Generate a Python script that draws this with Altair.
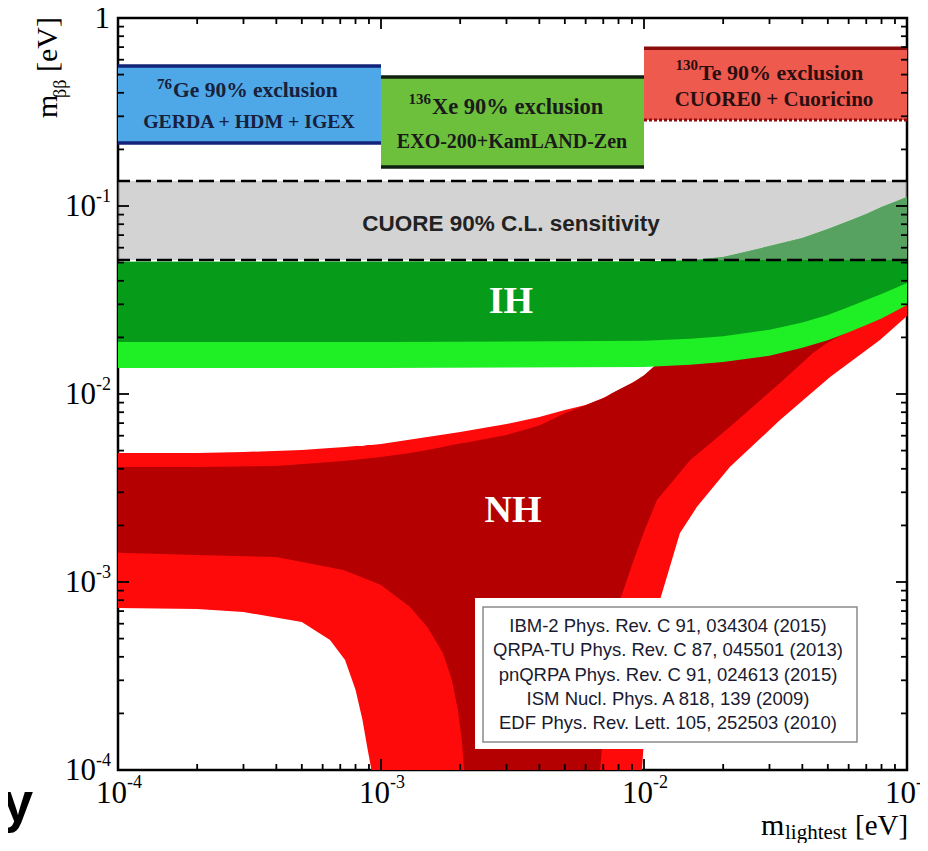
import altair as alt
import pandas as pd

W, H = 789, 752

# ---------------- data (eV) ----------------
# NH, outer (light red) band; 1e-4 = reaches the bottom of the frame
nh_out_x = [1.0e-4, 2.0e-4, 3.0e-4, 5.0e-4, 6.4e-4, 7.3e-4, 8.0e-4, 8.5e-4, 8.9e-4, 9.2e-4,
            1.0e-3, 1.5e-3, 2.0e-3, 3.0e-3, 4.0e-3, 5.0e-3, 6.0e-3, 7.0e-3, 8.0e-3, 9.0e-3, 9.83e-3,
            1.02e-2, 1.07e-2, 1.15e-2, 1.37e-2, 1.59e-2, 2.12e-2, 3.29e-2, 5.1e-2, 7.89e-2, 1.0e-1]
nh_out_hi = [0.00485, 0.00485, 0.00491, 0.00504, 0.00516, 0.00523, 0.00529, 0.00529, 0.00536, 0.00536,
             0.00542, 0.00591, 0.00628, 0.00692, 0.00755, 0.00822, 0.00874, 0.00952, 0.0105, 0.01145, 0.01217,
             0.0125, 0.0131, 0.0145, 0.016, 0.0175, 0.020, 0.023, 0.027, 0.031, 0.034]
nh_out_lo = [0.000728, 0.000718, 0.000692, 0.000612, 0.000491, 0.000385, 0.000267, 0.000185, 0.000128, 0.0001,
             0.0001, 0.0001, 0.0001, 0.0001, 0.0001, 0.0001, 0.0001, 0.0001, 0.0001, 0.0001, 0.0001,
             0.000236, 0.000491, 0.000802, 0.00182, 0.00251, 0.00409, 0.00727, 0.0123, 0.0194, 0.026]

# NH, inner (dark red) band
nh_in_x = [1.0e-4, 2.0e-4, 4.0e-4, 7.2e-4, 1.0e-3, 1.29e-3, 1.5e-3, 1.72e-3, 1.86e-3, 1.96e-3, 2.03e-3, 2.07e-3,
           3.0e-3, 4.0e-3, 5.0e-3, 6.0e-3, 6.81e-3, 7.17e-3, 7.55e-3, 8.11e-3, 9.0e-3, 1.0e-2,
           1.12e-2, 1.5e-2, 2.12e-2, 3.29e-2, 4.39e-2, 4.96e-2, 1.0e-1]
nh_in_hi = [0.00409, 0.00409, 0.00414, 0.0044, 0.00462, 0.00485, 0.00504, 0.00523, 0.00536, 0.00542, 0.00548, 0.00548,
            0.00605, 0.00680, 0.0079, 0.0087, 0.00935, 0.00964, 0.0101, 0.01063, 0.01145, 0.0126,
            0.0145, 0.0172, 0.020, 0.023, 0.026, 0.027, 0.034]
nh_in_lo = [0.00143, 0.00139, 0.00136, 0.00116, 0.000964, 0.000736, 0.000576, 0.000419, 0.000301, 0.000209, 0.000144, 0.0001,
            0.0001, 0.0001, 0.0001, 0.0001, 0.0001, 0.000236, 0.000491, 0.000802, 0.00123, 0.00185,
            0.00273, 0.00446, 0.00667, 0.01145, 0.0165, 0.0187, 0.0316]

# IH band
ih_x = [1e-4, 1e-3, 1e-2, 1.5e-2, 2e-2, 3e-2, 4e-2, 5e-2, 6e-2, 7e-2, 8e-2, 1e-1]
ih_hi = [0.0505, 0.0505, 0.0507, 0.0515, 0.0535, 0.0612, 0.0676, 0.0755, 0.0832, 0.0906, 0.0988, 0.1116]
ih_lo_dark = [0.0189, 0.0189, 0.0192, 0.0197, 0.0203, 0.022, 0.024, 0.0263, 0.029, 0.0316, 0.034, 0.039]
ih_lo_light = [0.01375, 0.01375, 0.0139, 0.0143, 0.0148, 0.016, 0.0176, 0.0193, 0.0213, 0.0233, 0.0252, 0.0297]

# experimental exclusion boxes
box_names = ["Ge", "Xe", "Te"]
box_x0 = [1e-4, 1e-3, 1e-2]
box_x1 = [1e-3, 1e-2, 1e-1]
box_lo = [0.216, 0.161, 0.287]
box_hi = [0.556, 0.486, 0.69]
box_fill = ["#4ea7e6", "#6cc03c", "#ef5a4f"]
box_edge = ["#14237a", "#102010", "#8a0c0c"]

# CUORE sensitivity band
cuore_lo, cuore_hi = 0.0516, 0.136

x_major = [1e-4, 1e-3, 1e-2, 1e-1]
x_exp = ["-4", "-3", "-2", "-1"]
y_major = [1e-4, 1e-3, 1e-2, 1e-1, 1.0]
y_exp = ["-4", "-3", "-2", "-1"]
minor_mult = [2, 3, 4, 5, 6, 7, 8, 9]

refs = ["IBM-2 Phys. Rev. C 91, 034304 (2015)",
        "QRPA-TU Phys. Rev. C 87, 045501 (2013)",
        "pnQRPA Phys. Rev. C 91, 024613 (2015)",
        "ISM Nucl. Phys. A 818, 139 (2009)",
        "EDF Phys. Rev. Lett. 105, 252503 (2010)"]

# ---------------- scales ----------------
xs = alt.Scale(type="log", domain=[1e-4, 1e-1])
ys = alt.Scale(type="log", domain=[1e-4, 1.0])


def X(f):
    return alt.X(f, type="quantitative", scale=xs, axis=None)


def Y(f):
    return alt.Y(f, type="quantitative", scale=ys, axis=None)


def band(xv, hi, lo, color):
    df = pd.DataFrame({"x": xv, "hi": hi, "lo": lo})
    return alt.Chart(df).mark_area(fill=color, stroke=None).encode(
        x=X("x"), y=Y("hi"), y2=alt.Y2("lo"))


layers = []
layers.append(band(nh_out_x, nh_out_hi, nh_out_lo, "#ff0a0a"))
layers.append(band(nh_in_x, nh_in_hi, nh_in_lo, "#b40000"))
layers.append(band(ih_x, ih_hi, ih_lo_light, "#1fef25"))
layers.append(band(ih_x, ih_hi, ih_lo_dark, "#079b1a"))

# CUORE sensitivity band
cu = pd.DataFrame({"x0": [1e-4], "x1": [1e-1], "lo": [cuore_lo], "hi": [cuore_hi]})
layers.append(alt.Chart(cu).mark_rect(color="#a8a8a8", opacity=0.5).encode(
    x=X("x0"), x2=alt.X2("x1"), y=Y("lo"), y2=alt.Y2("hi")))
cul = pd.DataFrame({"y": [cuore_lo, cuore_hi]})
layers.append(alt.Chart(cul).mark_rule(color="black", strokeWidth=2.5, strokeDash=[15, 6]).encode(y=Y("y")))

# exclusion boxes
bx = pd.DataFrame({"name": box_names, "x0": box_x0, "x1": box_x1, "lo": box_lo, "hi": box_hi,
                   "fill": box_fill, "edge": box_edge})
layers.append(alt.Chart(bx).mark_rect().encode(
    x=X("x0"), x2=alt.X2("x1"), y=Y("lo"), y2=alt.Y2("hi"),
    color=alt.Color("fill:N", scale=None)))
top_edges = pd.DataFrame({"x0": box_x0, "x1": box_x1, "y": box_hi, "edge": box_edge})
layers.append(alt.Chart(top_edges).mark_rule(strokeWidth=3.5).encode(
    x=X("x0"), x2=alt.X2("x1"), y=Y("y"), color=alt.Color("edge:N", scale=None)))
bot_edges = pd.DataFrame({"x0": box_x0[:2], "x1": box_x1[:2], "y": box_lo[:2], "edge": box_edge[:2]})
layers.append(alt.Chart(bot_edges).mark_rule(strokeWidth=3.5).encode(
    x=X("x0"), x2=alt.X2("x1"), y=Y("y"), color=alt.Color("edge:N", scale=None)))
te_bot = pd.DataFrame({"x0": [box_x0[2]], "x1": [box_x1[2]], "y": [box_lo[2]]})
layers.append(alt.Chart(te_bot).mark_rule(strokeWidth=3, color="#8a0c0c", strokeDash=[3, 2]).encode(
    x=X("x0"), x2=alt.X2("x1"), y=Y("y")))

# ---------------- ticks (inward, on all four sides) ----------------
x_minor = [m * d for d in x_major[:-1] for m in minor_mult]
y_minor = [m * d for d in y_major[:-1] for m in minor_mult]


def xticks(vals, length):
    df = pd.DataFrame({"x": vals})
    b = alt.Chart(df).mark_rule(color="black", strokeWidth=1.8).encode(
        x=X("x"), y=alt.value(H), y2=alt.value(H - length))
    t = alt.Chart(df).mark_rule(color="black", strokeWidth=1.8).encode(
        x=X("x"), y=alt.value(0), y2=alt.value(length))
    return [b, t]


def yticks(vals, length):
    df = pd.DataFrame({"y": vals})
    l = alt.Chart(df).mark_rule(color="black", strokeWidth=1.8).encode(
        y=Y("y"), x=alt.value(0), x2=alt.value(length))
    r = alt.Chart(df).mark_rule(color="black", strokeWidth=1.8).encode(
        y=Y("y"), x=alt.value(W), x2=alt.value(W - length))
    return [l, r]


layers += xticks(x_major, 11) + xticks(x_minor, 6) + yticks(y_major, 11) + yticks(y_minor, 6)

# ---------------- tick labels (10 with raised exponent) ----------------
serif = "Liberation Serif"
xl = pd.DataFrame({"v": x_major, "base": ["10"] * 4, "sup": x_exp})
layers.append(alt.Chart(xl).mark_text(font=serif, fontSize=31, align="right", baseline="middle", dx=9).encode(
    x=X("v"), y=alt.value(776), text="base:N"))
layers.append(alt.Chart(xl).mark_text(font=serif, fontSize=18, align="left", baseline="middle", dx=9).encode(
    x=X("v"), y=alt.value(765), text="sup:N"))
yl = pd.DataFrame({"v": y_major[:-1], "base": ["10"] * 4, "sup": y_exp})
layers.append(alt.Chart(yl).mark_text(font=serif, fontSize=31, align="right", baseline="middle", dy=1).encode(
    y=Y("v"), x=alt.value(-22), text="base:N"))
layers.append(alt.Chart(yl).mark_text(font=serif, fontSize=18, align="left", baseline="middle", dy=-9).encode(
    y=Y("v"), x=alt.value(-22), text="sup:N"))
yone = pd.DataFrame({"v": [y_major[-1]], "base": ["1"]})
layers.append(alt.Chart(yone).mark_text(font=serif, fontSize=31, align="right", baseline="middle", dy=1).encode(
    y=Y("v"), x=alt.value(-8), text="base:N"))


# ---------------- text annotations ----------------
one = pd.DataFrame({"a": [0]})


def label(s, px, py, size, color="black", font=serif, weight="normal",
          align="center", baseline="middle", angle=0):
    return alt.Chart(one).mark_text(fontSize=size, font=font, fontWeight=weight, color=color,
                                    align=align, baseline=baseline, angle=angle).encode(
        x=alt.value(px), y=alt.value(py), text=alt.value(s))


navy = "#17203c"
dk = "#1a1a1a"
tec = "#2a0e0e"
layers += [
    # Ge box
    label("76", 54, 66, 15, navy, weight="bold", align="right"),
    label("Ge 90% exclusion", 55, 73, 21.5, navy, weight="bold", align="left"),
    label("GERDA + HDM + IGEX", 131, 104, 19.8, navy, weight="bold"),
    # Xe box
    label("136", 313, 81, 15, dk, weight="bold", align="right"),
    label("Xe 90% exclusion", 314, 89, 22.5, dk, weight="bold", align="left"),
    label("EXO-200+KamLAND-Zen", 394, 124, 20, dk, weight="bold"),
    # Te box
    label("130", 580, 47, 15, tec, weight="bold", align="right"),
    label("Te 90% exclusion", 581, 55, 22, tec, weight="bold", align="left"),
    label("CUORE0 + Cuoricino", 656, 82, 21, tec, weight="bold"),
    label("CUORE 90% C.L. sensitivity", 393, 206, 22.5, "#222222", font="Liberation Sans", weight="bold"),
    label("IH", 393, 284, 38, "white", weight="bold"),
    label("NH", 395, 493, 38, "white", weight="bold"),
]

# reference box
layers.append(alt.Chart(one).mark_rect(color="white").encode(
    x=alt.value(357), x2=alt.value(744), y=alt.value(580), y2=alt.value(731)))
layers.append(alt.Chart(one).mark_rect(fill="white", stroke="#8a8a8a", strokeWidth=1.5).encode(
    x=alt.value(365), x2=alt.value(739), y=alt.value(589), y2=alt.value(724)))
for i, r in enumerate(refs):
    layers.append(label(r, 550, 608 + 24.3 * i, 18.5, "#1a1a30", font="Liberation Sans"))

# axis titles
layers += [
    label("m", -61, 100, 30, align="left", baseline="alphabetic", angle=270),
    label("ββ", -52, 80, 18, align="left", baseline="alphabetic", angle=270),
    label("[eV]", -61, 54, 30, align="left", baseline="alphabetic", angle=270),
    label("m", 643, 817, 30, align="left", baseline="alphabetic"),
    label("lightest", 667, 821, 21, align="left", baseline="alphabetic"),
    label("[eV]", 737, 817, 29, align="left", baseline="alphabetic"),
    label("y", -116, 803, 56, font="Liberation Sans", weight="bold", align="left", baseline="alphabetic"),
]

chart = alt.layer(*layers).properties(
    width=W, height=H,
    autosize=alt.AutoSizeParams(type="none"),
    padding={"left": 110, "top": 10, "right": 13, "bottom": 73},
    background="white",
).configure_view(stroke="black", strokeWidth=2.5)

chart.save("out.html", embed_options={"renderer": "svg", "actions": False})
